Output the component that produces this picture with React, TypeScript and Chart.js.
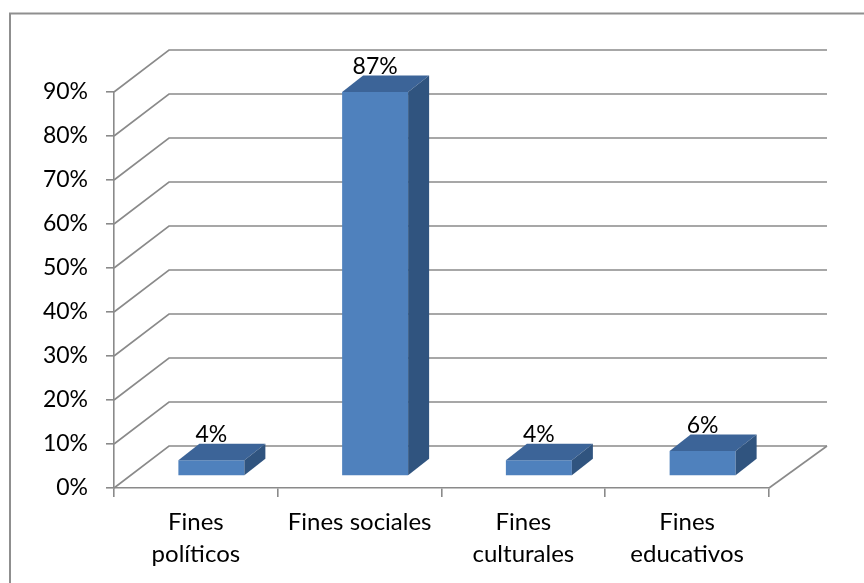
import React, { useEffect, useRef } from "react";
import { Chart, registerables } from "chart.js";

Chart.register(...registerables);

// ---- data ----
const categories: (string | string[])[] = [
  ["Fines", "políticos"],
  "Fines sociales",
  ["Fines", "culturales"],
  ["Fines", "educativos"],
];
const values: number[] = [3.6, 87.3, 3.6, 5.7];
const valueLabels: string[] = ["4%", "87%", "4%", "6%"];
const Y_MIN = 0;
const Y_MAX = 90;
const Y_STEP = 10;

// ---- styles / geometry ----
const FONT = "Lato, 'Open Sans', sans-serif";
const FONT_SIZE = 23;
const X_FONT_SIZE = 24;
const TEXT = "#000000";
const GRID = "#8a8a8a";
const FRONT = "#4f81bd";
const TOP = "#3c6498";
const SIDE = "#30547f";
const WALL_DX = 55;
const WALL_DX_RIGHT = 58;
const WALL_DY = -42;
const BAR_OFF_X = 15.5;
const BAR_OFF_Y = -12;
const BAR_DX = 21;
const BAR_DY = -16.5;

const threeD = {
  id: "threeD",
  beforeDraw(chart: any) {
    const { ctx, width, height } = chart;
    ctx.save();
    ctx.fillStyle = "#ffffff";
    ctx.fillRect(0, 0, width, height);
    ctx.strokeStyle = "#8f8f8f";
    ctx.lineWidth = 2;
    ctx.strokeRect(10, 13.5, width + 20, height + 20);
    ctx.restore();
  },
  beforeDatasetsDraw(chart: any) {
    const { ctx, chartArea } = chart;
    const ys = chart.scales.y;
    const xl = chartArea.left;
    const xr = chartArea.right;
    ctx.save();
    ctx.strokeStyle = GRID;
    ctx.lineWidth = 1.6;
    for (let v = Y_MIN; v <= Y_MAX; v += Y_STEP) {
      const y = ys.getPixelForValue(v);
      ctx.beginPath();
      ctx.moveTo(xl, y);
      ctx.lineTo(xl + WALL_DX, y + WALL_DY);
      ctx.lineTo(xr + WALL_DX_RIGHT, y + WALL_DY);
      ctx.stroke();
    }
    const y0 = ys.getPixelForValue(Y_MIN);
    ctx.beginPath();
    ctx.moveTo(xr, y0);
    ctx.lineTo(xr + WALL_DX_RIGHT, y0 + WALL_DY);
    ctx.stroke();
    ctx.restore();
    ctx.save();
    ctx.translate(BAR_OFF_X, BAR_OFF_Y);
  },
  afterDatasetsDraw(chart: any) {
    const { ctx } = chart;
    ctx.restore();
    const meta = chart.getDatasetMeta(0);
    ctx.save();
    meta.data.forEach((el: any, i: number) => {
      const p = el.getProps(["x", "y", "base", "width"], true);
      const L = p.x - p.width / 2 + BAR_OFF_X;
      const R = p.x + p.width / 2 + BAR_OFF_X;
      const T = p.y + BAR_OFF_Y;
      const B = p.base + BAR_OFF_Y;
      ctx.fillStyle = TOP;
      ctx.beginPath();
      ctx.moveTo(L, T);
      ctx.lineTo(R, T);
      ctx.lineTo(R + BAR_DX, T + BAR_DY);
      ctx.lineTo(L + BAR_DX, T + BAR_DY);
      ctx.closePath();
      ctx.fill();
      ctx.fillStyle = SIDE;
      ctx.beginPath();
      ctx.moveTo(R, T);
      ctx.lineTo(R + BAR_DX, T + BAR_DY);
      ctx.lineTo(R + BAR_DX, B + BAR_DY);
      ctx.lineTo(R, B);
      ctx.closePath();
      ctx.fill();
      ctx.fillStyle = TEXT;
      ctx.font = `${FONT_SIZE}px ${FONT}`;
      ctx.textAlign = "center";
      ctx.textBaseline = "middle";
      ctx.fillText(valueLabels[i], p.x + BAR_OFF_X, T + BAR_DY - 9);
    });
    ctx.restore();
  },
};

export default function App() {
  const ref = useRef<HTMLCanvasElement>(null);
  useEffect(() => {
    document.body.style.margin = "0";
    const chart = new Chart(ref.current as HTMLCanvasElement, {
      type: "bar",
      data: {
        labels: categories as any,
        datasets: [
          {
            data: values,
            backgroundColor: FRONT,
            borderWidth: 0,
            categoryPercentage: 1,
            barPercentage: 0.403,
            clip: false as any,
          },
        ],
      },
      options: {
        responsive: false,
        animation: false,
        devicePixelRatio: 1,
        layout: { padding: { top: 92, right: 95, bottom: 0, left: 0 } },
        plugins: {
          legend: { display: false },
          tooltip: { enabled: false },
          title: { display: false },
        },
        scales: {
          x: {
            offset: true,
            grid: {
              offset: true,
              drawOnChartArea: false,
              drawTicks: true,
              tickLength: 9,
              color: GRID,
              lineWidth: 1.6,
            },
            border: { display: true, color: GRID, width: 1.6 },
            ticks: {
              color: TEXT,
              padding: 10,
              maxRotation: 0,
              autoSkip: false,
              font: { family: FONT, size: X_FONT_SIZE, lineHeight: 1.3 },
            },
            afterFit: (s: any) => {
              s.height = 95;
            },
          },
          y: {
            min: Y_MIN,
            max: Y_MAX,
            ticks: {
              stepSize: Y_STEP,
              color: TEXT,
              padding: 18,
              font: { family: FONT, size: FONT_SIZE },
              callback: (v: any) => `${v}%`,
            },
            grid: {
              drawOnChartArea: false,
              drawTicks: true,
              tickLength: 8,
              color: GRID,
              lineWidth: 1.6,
            },
            border: { display: true, color: GRID, width: 1.6 },
            afterFit: (s: any) => {
              s.width = 114;
            },
          },
        },
      },
      plugins: [threeD],
    });
    return () => chart.destroy();
  }, []);
  return (
    <div style={{ width: 864, height: 583 }}>
      <canvas ref={ref} width={864} height={583} style={{ display: "block" }} />
    </div>
  );
}
